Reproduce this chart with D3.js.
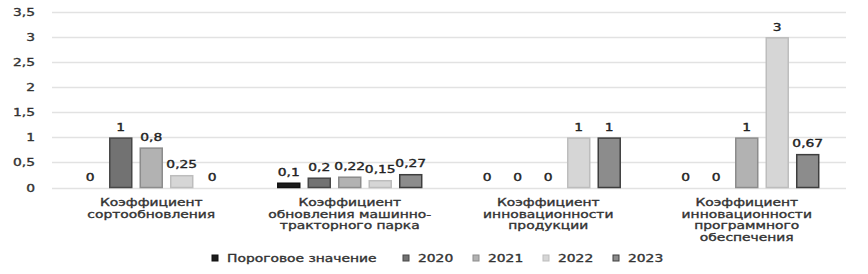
<!DOCTYPE html>
<html><head><meta charset="utf-8">
<script src="https://cdn.jsdelivr.net/npm/d3@7/dist/d3.min.js"></script>
<style>
body{margin:0;background:#fff;}
text{font-family:"DejaVu Sans",sans-serif;}
</style></head><body>
<svg id="c" width="868" height="274"></svg>
<script>
const categories = [
  ["Коэффициент","сортообновления"],
  ["Коэффициент","обновления машинно-","тракторного парка"],
  ["Коэффициент","инновационности","продукции"],
  ["Коэффициент","инновационности","программного","обеспечения"]
];
const seriesNames = ["Пороговое значение","2020","2021","2022","2023"];
const threshold = [0, 0.1, 0, 0];
const v2020 = [1, 0.2, 0, 0];
const v2021 = [0.8, 0.22, 0, 1];
const v2022 = [0.25, 0.15, 1, 3];
const v2023 = [0, 0.27, 1, 0.67];
const valueLabels = [
  ["0","0,1","0","0"],
  ["1","0,2","0","0"],
  ["0,8","0,22","0","1"],
  ["0,25","0,15","1","3"],
  ["0","0,27","1","0,67"]
];
const yTicks = [0,0.5,1,1.5,2,2.5,3,3.5];
const yTickLabels = ["0","0,5","1","1,5","2","2,5","3","3,5"];

const series = [threshold, v2020, v2021, v2022, v2023];
const fills = ["#1c1c1c","#727272","#b2b2b2","#d6d6d6","#8c8c8c"];
const strokes = ["#111111","#474747","#8c8c8c","#bdbdbd","#3e3e3e"];
const SX = 1.32;

const svg = d3.select("#c");
const x0 = d3.scaleBand().domain(d3.range(categories.length)).range([52,846]);
const x1 = d3.scaleBand().domain(d3.range(series.length)).range([0,x0.bandwidth()]).paddingInner(0.23).paddingOuter(0.87);
const y = d3.scaleLinear().domain([0,3.5]).range([187.5,12]);

function stext(g, x, yy, str, anchor, size, fill){
  return g.append("text").attr("transform",`translate(${x},${yy}) scale(${SX},1)`)
    .attr("text-anchor",anchor).attr("font-size",size).attr("fill",fill)
    .attr("stroke",fill).attr("stroke-width",0.35).text(str);
}

// grid
svg.append("g").selectAll("line").data(yTicks).join("line")
  .attr("x1",52).attr("x2",846).attr("y1",d=>Math.round(y(d))+0.5).attr("y2",d=>Math.round(y(d))+0.5)
  .attr("stroke","#e2e2e2").attr("stroke-width",1.5);
const yl = svg.append("g");
yTicks.forEach((t,i)=>stext(yl,35,y(t)+4,yTickLabels[i],"end",10.5,"#333"));

// bars
const bars = svg.append("g");
series.forEach((s,si)=>{
  s.forEach((v,ci)=>{
    const xx = x0(ci)+x1(si);
    if(v>0){
      bars.append("rect").attr("x",xx+0.75).attr("y",y(v)+0.75)
        .attr("width",x1.bandwidth()-1.5).attr("height",y(0)-y(v)-0.75)
        .attr("fill",fills[si]).attr("stroke",strokes[si]).attr("stroke-width",1.5);
    }
    stext(bars, xx+x1.bandwidth()/2, y(v)-6.5, valueLabels[si][ci], "middle", 10.5, "#222");
  });
});

// category labels
const cl = svg.append("g");
categories.forEach((lines,ci)=>{
  lines.forEach((ln,li)=>stext(cl, x0(ci)+x0.bandwidth()/2, 206+li*11.7, ln, "middle", 10.5, "#333"));
});

// legend
const lg = svg.append("g");
const lx = [212,403,473,543,613];
seriesNames.forEach((n,i)=>{
  lg.append("rect").attr("x",lx[i]).attr("y",255).attr("width",6).attr("height",6)
    .attr("fill",fills[i]).attr("stroke",strokes[i]).attr("stroke-width",1);
  stext(lg, lx[i]+15, 261.5, n, "start", 10.5, "#333");
});
</script></body></html>
